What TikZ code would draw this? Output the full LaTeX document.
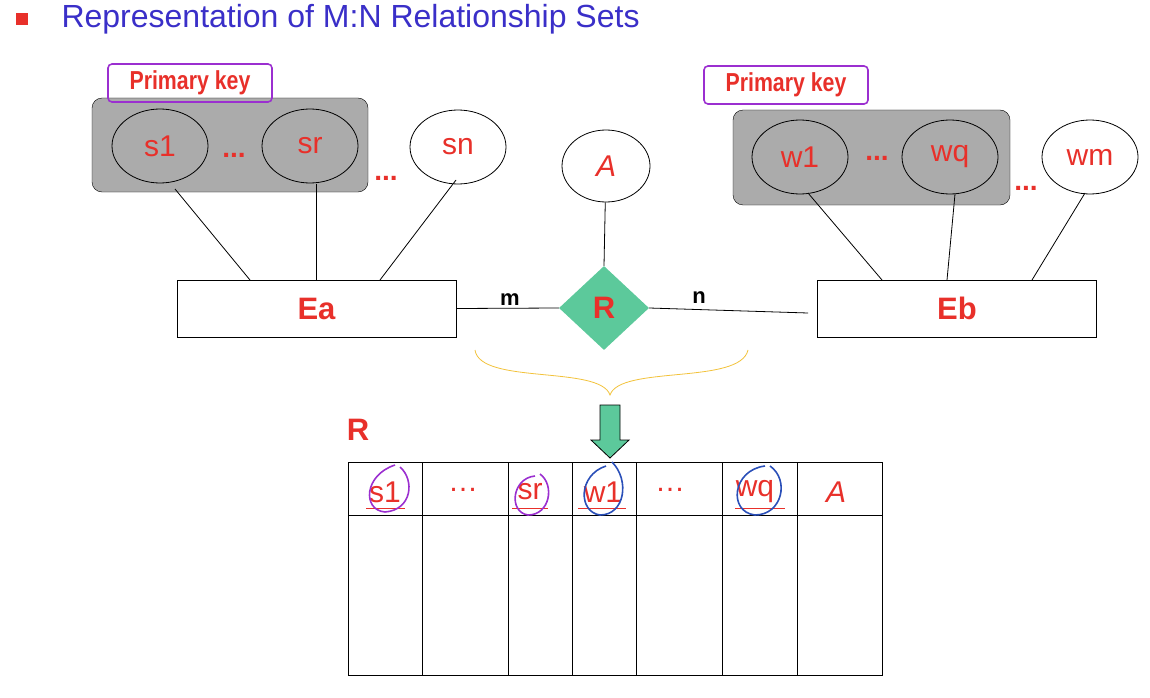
\documentclass[tikz,border=0pt]{standalone}
\usepackage{fontspec}
\setmainfont{Liberation Sans}
\usetikzlibrary{shapes.geometric,decorations.pathreplacing}
\definecolor{tred}{HTML}{E8302A}
\definecolor{tblue}{HTML}{3A2FC8}
\definecolor{tgray}{HTML}{ABABAB}
\definecolor{tgreen}{HTML}{5CC99B}
\definecolor{tpurple}{HTML}{9B2FD0}
\definecolor{pblue}{HTML}{2A4FB8}
\definecolor{tyel}{HTML}{F2C23A}
\begin{document}
\begin{tikzpicture}[x=1pt,y=-1pt,
  lbl/.style={text=tred,font=\fontsize{30}{32}\selectfont},
  att/.style={ellipse,draw,thick,minimum width=96pt,minimum height=74pt,lbl},
  ent/.style={draw,minimum width=279pt,minimum height=57pt,lbl,font=\fontsize{31}{33}\selectfont\bfseries},
  grp/.style={draw,fill=tgray,rounded corners=10pt},
  pk/.style={draw=tpurple,line width=1.6pt,rounded corners=4pt,minimum width=164pt,minimum height=38pt,text=tred,font=\fontsize{26}{28}\selectfont\bfseries},
  dots/.style={text=tred,font=\fontsize{28}{30}\selectfont\bfseries},
  con/.style={draw,thick},
  hd/.style={lbl},
  circ/.style={line width=1.6pt}]
\useasboundingbox (0,0) rectangle (1150,698);
\fill[tred] (16,13) rectangle (28,25);
\node[anchor=west,text=tblue,font=\fontsize{32}{34}\selectfont] (title) at (58,19) {Representation of M:N Relationship Sets};
% left group
\draw[grp] (92,98) rectangle (368,192);
\node[att,fill=tgray] (s1) at (160,146) {s1};
\node[att,fill=tgray] (sr) at (310,146) {sr};
\node[dots] (d1) at (234,155) {...};
\node[dots] (d2) at (386,178) {...};
\node[att,fill=white] (sn) at (458,147) {sn};
\node[pk] (pk1) at (190,83) {\addfontfeature{FakeStretch=0.82}Primary key};
\node[ent] (ea) at (316.5,308.5) {Ea};
\draw[con] (175,189) -- (250,280);
\draw[con] (316,184) -- (316,280);
\draw[con] (456,180) -- (380,280);
% R
\node[diamond,fill=tgreen,minimum width=90pt,minimum height=84pt,inner sep=0pt,lbl,font=\fontsize{31}{33}\selectfont\bfseries] (r) at (604,308) {R};
\node[att,minimum width=88pt,minimum height=72pt,font=\fontsize{30}{32}\selectfont\itshape] (a) at (606,166) {A};
\draw[con] (a) -- (r.north);
\node[ent] (eb) at (957,308.5) {Eb};
\draw[con] (ea.east) -- (r.west);
\draw[con] (r.east) -- (808,313);
\node[font=\fontsize{22}{24}\selectfont\bfseries] (m) at (510,300) {m};
\node[font=\fontsize{22}{24}\selectfont\bfseries] (n) at (699,298) {n};
% right group
\draw[grp] (733,110) rectangle (1010,205);
\node[att,fill=tgray] (w1) at (800,157) {w1};
\node[att,fill=tgray] (wq) at (950,157) {wq};
\node[dots] (d3) at (877,158) {...};
\node[dots] (d4) at (1026,188) {...};
\node[att,fill=white] (wm) at (1090,157) {wm};
\node[pk] (pk2) at (786,85) {\addfontfeature{FakeStretch=0.82}Primary key};
\draw[con] (808,193) -- (882,280);
\draw[con] (955,194) -- (947,280);
\draw[con] (1085,193) -- (1032,280);
% brace
\draw[tyel,thick] (475,350) .. controls (480,385) and (600,365) .. (610,395) .. controls (620,365) and (740,385) .. (748,350);
% arrow
\draw[fill=tgreen,thick] (600,405) -- (620,405) -- (620,440) -- (629,440) -- (610,458) -- (591,440) -- (600,440) -- cycle;
\node[text=tred,font=\fontsize{31}{33}\selectfont\bfseries] (rl) at (358,430) {R};
% table
\draw[thick] (348,462) rectangle (882,675);
\draw[thick] (348,515) -- (882,515);
\foreach \x in {422,508,572,636,722,797} \draw[thick] (\x,462) -- (\x,675);
\node[hd] (h1) at (385,492) {s1};
\node[hd] (h2) at (463,490) {…};
\node[hd] (h3) at (530,492) {sr};
\node[hd] (h4) at (603,492) {w1};
\node[hd] (h5) at (670,490) {…};
\node[hd] (h6) at (755,492) {wq};
\node[hd,font=\fontsize{30}{32}\selectfont\itshape] (h7) at (836,492) {A};
\foreach \a/\b in {366/405,512/548,578/626,735/785} \draw[tred,thick] (\a,508) -- (\b,508);
\draw[tpurple,circ] (400,467) .. controls (415,480) and (412,510) .. (385,512) .. controls (362,510) and (364,475) .. (395,465);
\draw[tpurple,circ] (540,474) .. controls (555,485) and (550,515) .. (528,515) .. controls (508,512) and (512,478) .. (535,476);
\draw[pblue,circ] (612,462) .. controls (630,480) and (625,515) .. (600,515) .. controls (578,512) and (578,475) .. (606,466);
\draw[pblue,circ] (770,466) .. controls (790,480) and (782,515) .. (755,515) .. controls (728,512) and (732,470) .. (765,466);
\end{tikzpicture}
\end{document}
